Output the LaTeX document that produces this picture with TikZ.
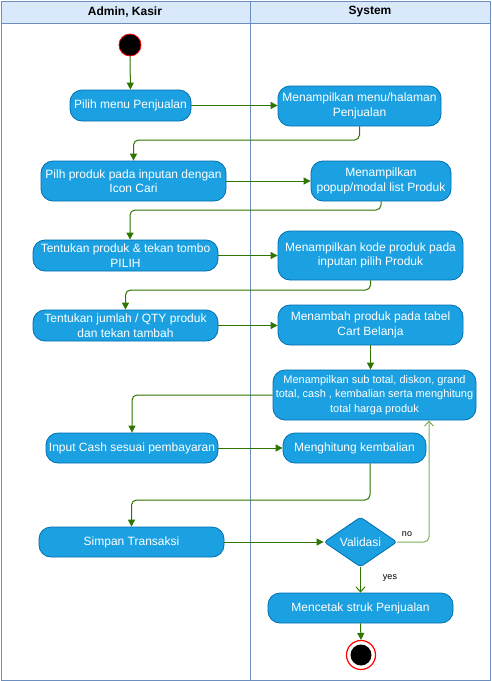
\documentclass[tikz,border=0pt]{standalone}
\usepackage{fontspec}
\setmainfont{Liberation Sans}
\usetikzlibrary{shapes.geometric,arrows.meta,calc}
\definecolor{hdrfill}{HTML}{DAE8FC}
\definecolor{hdrline}{HTML}{6C8EBF}
\definecolor{actfill}{HTML}{1BA1E2}
\definecolor{actline}{HTML}{006EAF}
\definecolor{flowc}{HTML}{2D7600}
\definecolor{noc}{HTML}{7AB05A}
\begin{document}
\begin{tikzpicture}[x=1pt,y=-1pt,
  act/.style={draw=actline, fill=actfill, text=white, rounded corners=12pt, align=center,
    inner sep=1pt, font=\fontsize{12}{14.5}\selectfont, line width=0.8pt},
  flow/.style={draw=flowc, line width=1pt, -{Triangle[length=7pt,width=7pt]}, rounded corners=5pt},
  openflow/.style={line width=1pt, -{Straight Barb[length=5pt,width=9pt]}, rounded corners=5pt},
  lanehdr/.style={font=\bfseries\fontsize{12}{14}\selectfont, text=black},
  lbl/.style={font=\fontsize{9}{10}\selectfont, text=black}
]
\useasboundingbox (0,0) rectangle (491,681);
\fill[white] (0,0) rectangle (491,681);
\draw[hdrline, fill=hdrfill, line width=0.8pt] (1,1) rectangle (490,23);
\draw[hdrline, line width=0.8pt] (1,1) rectangle (490,680);
\draw[hdrline, line width=0.8pt] (250,1) -- (250,680);
\node[lanehdr] (h1) at (125,12) {Admin, Kasir};
\node[lanehdr] (h2) at (370,12) {System};

% start
\node[circle, fill=black, draw=red, line width=0.8pt, minimum size=22pt, inner sep=0pt] (start) at (130,45) {};

% left lane
\node[act, minimum width=121pt, minimum height=31pt] (pilih) at (130.5,105.5) {Pilih menu Penjualan};
\node[act, minimum width=185pt, minimum height=40pt] (pilh) at (133.5,181) {Pilh produk pada inputan dengan\\Icon Cari};
\node[act, minimum width=185pt, minimum height=31pt] (tent) at (125.5,255.5) {Tentukan produk \& tekan tombo\\PILIH};
\node[act, minimum width=185pt, minimum height=31pt] (jml) at (125.5,325.5) {Tentukan jumlah / QTY produk\\dan tekan tambah};
\node[act, minimum width=172pt, minimum height=30pt] (input) at (132,448) {Input Cash sesuai pembayaran};
\node[act, minimum width=185pt, minimum height=30pt] (simpan) at (131.5,542) {Simpan Transaksi};

% right lane
\node[act, minimum width=163pt, minimum height=40pt] (men1) at (359.5,106) {Menampilkan menu/halaman\\Penjualan};
\node[act, minimum width=140pt, minimum height=40pt] (popup) at (381,181) {Menampilkan\\popup/modal list Produk};
\node[act, minimum width=185pt, minimum height=49pt] (kode) at (370.5,255.5) {Menampilkan kode produk pada\\inputan pilih Produk};
\node[act, minimum width=185pt, minimum height=40pt] (tambah) at (370.5,325) {Menambah produk pada tabel\\Cart Belanja};
\node[act, minimum width=203pt, minimum height=50pt, font=\fontsize{11}{14.5}\selectfont] (sub) at (374.5,395) {Menampilkan sub total, diskon, grand\\total, cash , kembalian serta menghitung\\total harga produk};
\node[act, minimum width=143pt, minimum height=30pt] (hitung) at (354.5,448) {Menghitung kembalian};
\node[diamond, draw=actline, fill=actfill, text=white, line width=0.8pt, minimum width=73pt, minimum height=36pt, inner sep=0pt, rounded corners=3pt, font=\fontsize{12}{14}\selectfont] (valid) at (360.5,542) {Validasi};
\node[act, minimum width=185pt, minimum height=30pt] (cetak) at (360.5,608) {Mencetak struk Penjualan};

% end
\node[circle, draw=red, fill=white, line width=1.2pt, minimum size=29pt, inner sep=0pt] (endo) at (361,655) {};
\node[circle, fill=black, minimum size=21pt, inner sep=0pt] (endi) at (endo) {};

% flows
\draw[flow] (start) -- (pilih);
\draw[flow] (pilih.east) -- (pilih.east -| men1.west);
\draw[flow] (men1.south) -- ($(men1.south |- 0,140)$) -| (pilh.north);
\draw[flow] (pilh.east) -- (pilh.east -| popup.west);
\draw[flow] (popup.south) -- ($(popup.south |- 0,210)$) -| ($(tent.north)+(4.5,0)$);
\draw[flow] (tent.east) -- (tent.east -| kode.west);
\draw[flow] (kode.south) -- ($(kode.south |- 0,290)$) -| (jml.north);
\draw[flow] (jml.east) -- (jml.east -| tambah.west);
\draw[flow] (tambah.south) -- (tambah.south |- sub.north);
\draw[flow] (sub.west) -| (input.north);
\draw[flow] (input.east) -- (input.east -| hitung.west);
\draw[flow] ($(hitung.south)+(15.5,0)$) -- ($(hitung.south |- 0,500)+(15.5,0)$) -| (simpan.north);
\draw[flow] (simpan.east) -- (valid.west);
\draw[openflow, draw=noc] (valid.east) -| ($(sub.south)+(54.5,0)$);
\draw[openflow, draw=flowc] (valid.south) -- (cetak.north);
\draw[flow] (cetak.south) -- (endo.north);

\node[lbl] (nolbl) at (407,534) {no};
\node[lbl] (yeslbl) at (390,578) {yes};
\end{tikzpicture}
\end{document}
